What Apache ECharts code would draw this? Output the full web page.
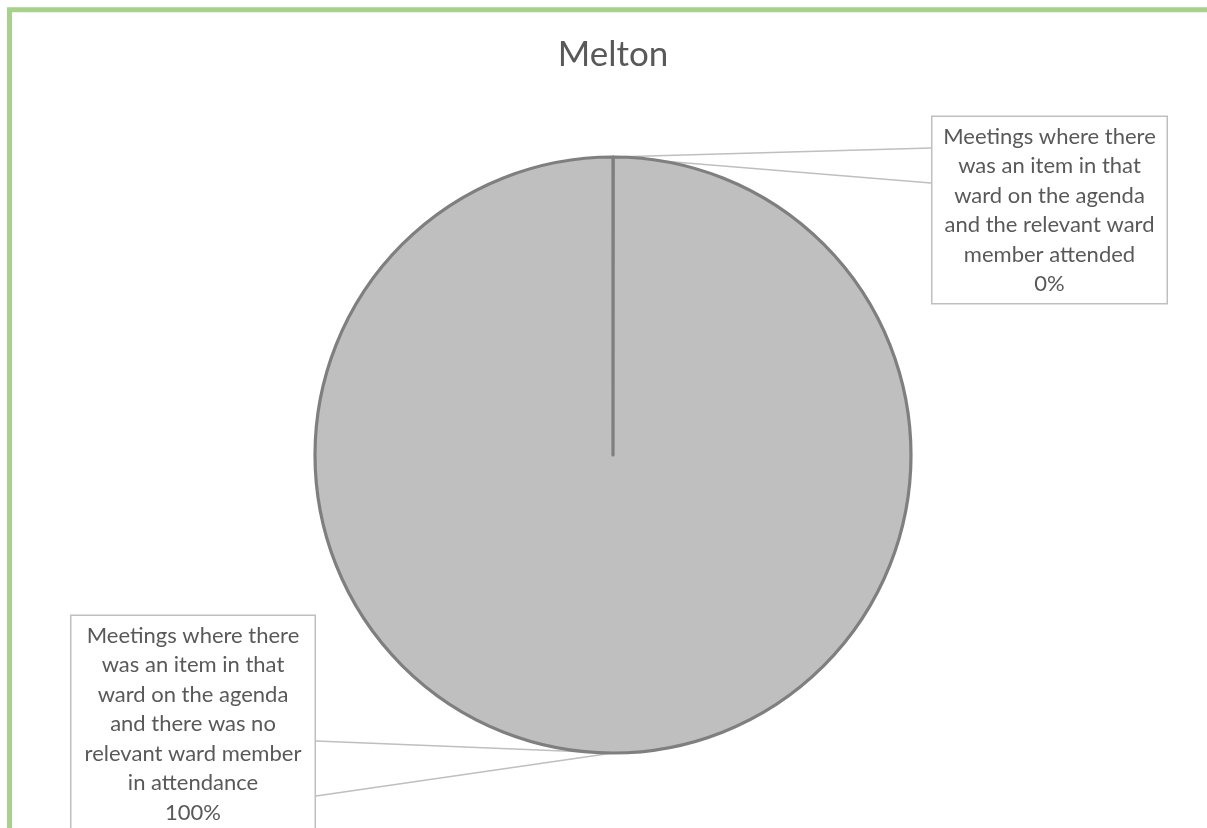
<!DOCTYPE html>
<html>
<head>
<meta charset="utf-8">
<script src="https://cdn.jsdelivr.net/npm/echarts@6/dist/echarts.min.js"></script>
<style>
html,body{margin:0;padding:0;background:#fff;}
#chart{width:1207px;height:828px;}
</style>
</head>
<body>
<div id="chart"></div>
<script>
// ---- data ----
const chartTitle = 'Melton';
const categories = [
  'Meetings where there was an item in that ward on the agenda and the relevant ward member attended',
  'Meetings where there was an item in that ward on the agenda and there was no relevant ward member in attendance'
];
const labelLines = [
  ['Meetings where there', 'was an item in that', 'ward on the agenda', 'and the relevant ward', 'member attended'],
  ['Meetings where there', 'was an item in that', 'ward on the agenda', 'and there was no', 'relevant ward member', 'in attendance']
];
const values = [0, 100];

// ---- layout (not data) ----
const boxes = [
  { left: 931, top: 117, width: 214, side: 'left', hook: [31, 66] },
  { left: 70, top: 616, width: 223, side: 'right', hook: [125, 180] }
];

const chart = echarts.init(document.getElementById('chart'), null, { renderer: 'canvas' });

const seriesData = categories.map((c, i) => ({
  name: c,
  value: values[i],
  label: { width: boxes[i].width }
}));

const option = {
  backgroundColor: '#ffffff',
  animation: false,
  title: {
    text: chartTitle,
    left: 613,
    textAlign: 'center',
    top: 37,
    padding: 0,
    textStyle: { fontFamily: 'Lato', fontSize: 35, fontWeight: 'normal', color: '#595959' }
  },
  graphic: [
    {
      type: 'rect',
      silent: true,
      z: 100,
      shape: { x: 9.5, y: 9.8, width: 1400, height: 1000 },
      style: { fill: 'none', stroke: '#a9d18e', lineWidth: 5 }
    }
  ],
  series: [{
    type: 'pie',
    center: [613, 455],
    radius: 298,
    startAngle: 90,
    clockwise: true,
    minAngle: 0.05,
    avoidLabelOverlap: false,
    silent: true,
    itemStyle: { color: '#bfbfbf', borderColor: '#7f7f7f', borderWidth: 3.2 },
    emphasis: { disabled: true },
    label: {
      show: true,
      position: 'outside',
      fontFamily: 'Lato',
      fontSize: 22,
      lineHeight: 29.5,
      color: '#595959',
      align: 'center',
      backgroundColor: '#ffffff',
      borderColor: '#bfbfbf',
      borderWidth: 1.5,
      padding: [5, 10, 4, 10],
      formatter: function (p) {
        return labelLines[p.dataIndex].join('\n') + '\n' + Math.round(p.percent) + '%';
      }
    },
    labelLine: {
      show: true,
      smooth: false,
      lineStyle: { color: '#bfbfbf', width: 1.5 }
    },
    labelLayout: function (p) {
      const b = boxes[p.dataIndex];
      const w = p.labelRect.width;
      const anchor = (p.labelLinePoints && p.labelLinePoints[0]) ||
        [p.rect.x + p.rect.width / 2, p.dataIndex === 0 ? p.rect.y : p.rect.y + p.rect.height];
      const ex = b.side === 'left' ? b.left : b.left + w;
      return {
        x: b.left + w / 2,
        y: b.top,
        align: 'center',
        verticalAlign: 'top',
        labelLinePoints: [[ex, b.top + b.hook[0]], [anchor[0], anchor[1]], [ex, b.top + b.hook[1]]]
      };
    },
    data: seriesData
  }]
};
chart.setOption(option);
</script>
</body>
</html>
